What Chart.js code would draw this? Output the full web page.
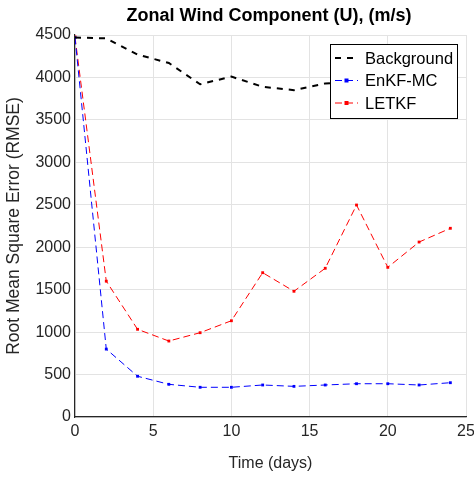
<!DOCTYPE html>
<html>
<head>
<meta charset="utf-8">
<script src="https://cdn.jsdelivr.net/npm/chart.js@4"></script>
<style>
html,body{margin:0;padding:0;background:#fff;}
#wrap{width:474px;height:477px;}
</style>
</head>
<body>
<div id="wrap"><canvas id="rmseChart" width="474" height="477"></canvas></div>
<script>
// values
let days=[0,2,4,6,8,10,12,14,16,18,20,22,24];
let background=[4470,4460,4270,4170,3920,4010,3890,3850,3930,3950,3900,3950,3920];
let enkf=[4470,800,480,385,350,350,377,361,377,392,392,377,404];
let letkf=[4476,1600,1033,895,993,1134,1700,1481,1752,2497,1763,2061,2223];
let xTicks=[0,5,10,15,20,25];
let yTicks=[0,500,1000,1500,2000,2500,3000,3500,4000,4500];

const FONT="'Liberation Sans', Arial, sans-serif";
const INK="#262626";

function pts(ys){ return days.map((d,i)=>({x:d,y:ys[i]})); }

// title + legend box drawn on top of the plot, matlab style
const overlay={
    id:"overlay",
    afterDraw(chart){
        let ctx=chart.ctx;
        ctx.save();
        ctx.fillStyle="#000";
        ctx.font="bold 18px "+FONT;
        ctx.textAlign="center";
        ctx.textBaseline="middle";
        ctx.fillText("Zonal Wind Component (U), (m/s)",269,16);

        let bx=330,by=44,bw=127,bh=74;
        ctx.fillStyle="#fff";
        ctx.fillRect(bx,by,bw,bh);
        ctx.strokeStyle="#000";
        ctx.lineWidth=1;
        ctx.strokeRect(bx+0.5,by+0.5,bw,bh);
        chart.data.datasets.forEach((ds,i)=>{
            let y=by+14+i*22.5;
            ctx.strokeStyle=ds.borderColor;
            ctx.lineWidth=ds.borderWidth;
            ctx.setLineDash(ds.borderDash);
            ctx.beginPath();
            ctx.moveTo(bx+5,y);
            ctx.lineTo(bx+28,y);
            ctx.stroke();
            ctx.setLineDash([]);
            if(ds.pointRadius>0){
                ctx.fillStyle=ds.borderColor;
                ctx.fillRect(bx+14.5,y-2,4,4);
            }
            ctx.fillStyle="#000";
            ctx.font="16.5px "+FONT;
            ctx.textAlign="left";
            ctx.fillText(ds.label,bx+35,y+1);
        });
        ctx.restore();
    }
};

new Chart(document.getElementById("rmseChart"),{
    type:"line",
    data:{
        datasets:[
            {label:"Background",data:pts(background),borderColor:"#000",borderWidth:2,borderDash:[6,6],pointRadius:0,tension:0},
            {label:"EnKF-MC",data:pts(enkf),borderColor:"#0000ff",borderWidth:1,borderDash:[7,4],pointRadius:2,pointStyle:"rect",pointBackgroundColor:"#0000ff",pointBorderWidth:0,tension:0},
            {label:"LETKF",data:pts(letkf),borderColor:"#ff0000",borderWidth:1,borderDash:[7,4],pointRadius:2,pointStyle:"rect",pointBackgroundColor:"#ff0000",pointBorderWidth:0,tension:0}
        ]
    },
    options:{
        responsive:false,
        animation:false,
        layout:{padding:{top:35,right:0,left:0,bottom:0}},
        plugins:{legend:{display:false},tooltip:{enabled:false},title:{display:false}},
        scales:{
            x:{
                type:"linear",min:0,max:25,
                afterBuildTicks:s=>{s.ticks=xTicks.map(v=>({value:v}));},
                afterFit:s=>{s.height=60;s.paddingRight=8;},
                grid:{color:"#e3e3e3",drawTicks:false},
                border:{color:INK,width:1.2},
                ticks:{color:INK,font:{family:FONT,size:16},padding:5,callback:v=>String(v)},
                title:{display:true,text:"Time (days)",color:INK,font:{family:FONT,size:16},padding:{top:0}}
            },
            y:{
                min:0,max:4500,
                afterBuildTicks:s=>{s.ticks=yTicks.map(v=>({value:v}));},
                afterFit:s=>{s.width=75;},
                grid:{color:"#e3e3e3",drawTicks:false},
                border:{color:INK,width:1.2},
                ticks:{color:INK,font:{family:FONT,size:16},padding:4,callback:v=>String(v)},
                title:{display:true,text:"Root Mean Square Error (RMSE)",color:INK,font:{family:FONT,size:17.5},padding:{bottom:0,top:4}}
            }
        }
    },
    plugins:[overlay]
});
</script>
</body>
</html>
